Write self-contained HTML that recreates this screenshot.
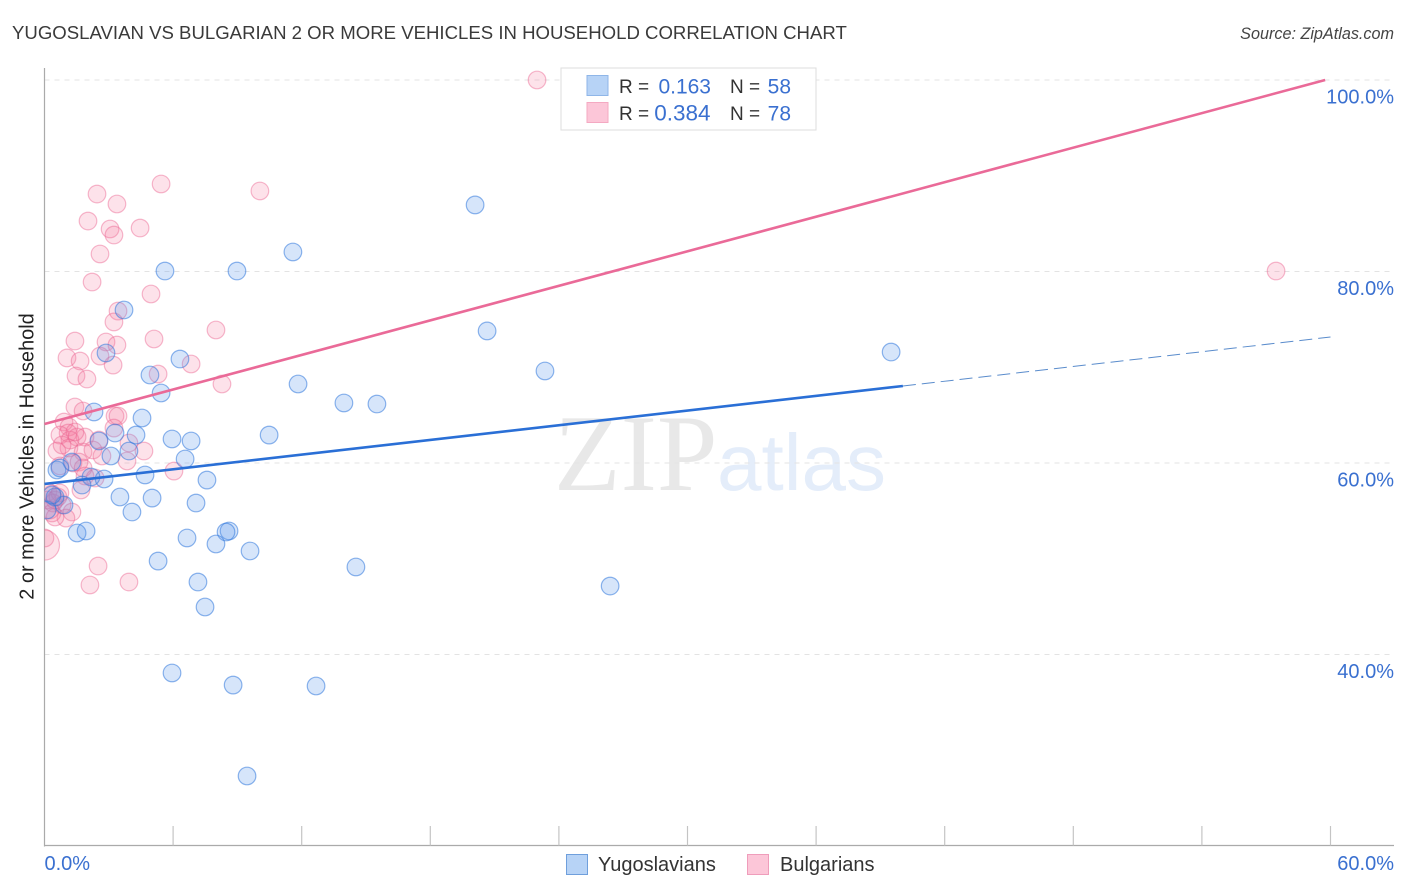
<!DOCTYPE html>
<html lang="en">
<head>
<meta charset="utf-8">
<title>Yugoslavian vs Bulgarian 2 or More Vehicles in Household Correlation Chart</title>
<style>
  html, body { margin: 0; padding: 0; background: #fff; }
  svg { display: block; font-family: "Liberation Sans", sans-serif; }
</style>
</head>
<body>
<svg id="chart" width="1406" height="892" viewBox="0 0 1406 892" xmlns="http://www.w3.org/2000/svg">
  <defs>
    <clipPath id="plot-clip"><rect x="44.5" y="60" width="1350" height="786"></rect></clipPath>
  </defs>
  <rect width="1406" height="892" fill="#fff"></rect>
  <text x="12" y="39" font-size="18.6" fill="#3a3a3a">YUGOSLAVIAN VS BULGARIAN 2 OR MORE VEHICLES IN HOUSEHOLD CORRELATION CHART</text>
  <text x="1394" y="39" font-size="16.2" font-style="italic" fill="#444" text-anchor="end">Source: ZipAtlas.com</text>
  <text transform="translate(33.5,456.5) rotate(-90)" font-size="19.9" fill="#222" text-anchor="middle">2 or more Vehicles in Household</text>
  <g>
    <text x="554" y="490" font-family="'Liberation Serif', serif" font-size="109" fill="#e8e8e8">ZIP</text>
    <text x="717" y="490" font-size="80" fill="#e4edfa">atlas</text>
  </g>
  <g id="grid"></g>
  <g id="axes"></g>
  <g id="points" clip-path="url(#plot-clip)"></g>
  <g id="trends"></g>
  <g id="labels"></g>

  <g>
    <rect x="561" y="68" width="255" height="62" fill="#fff" stroke="#ddd" stroke-width="1"></rect>
    <rect x="587" y="75.5" width="21" height="20" fill="#b7d3f6" stroke="#8fb6e8" stroke-width="1"></rect>
    <rect x="587" y="102.5" width="21" height="20" fill="#fcc6d8" stroke="#f4a9c2" stroke-width="1"></rect>
    <g font-size="19">
      <text x="619" y="93" fill="#333">R =</text>
      <text x="711" y="93.5" fill="#3a70d0" text-anchor="end" font-size="21">0.163</text>
      <text x="730" y="93" fill="#333">N =</text>
      <text x="791" y="93.5" fill="#3a70d0" text-anchor="end" font-size="21">58</text>
      <text x="619" y="120" fill="#333">R =</text>
      <text x="710.5" y="120.5" fill="#3a70d0" text-anchor="end" font-size="22.5">0.384</text>
      <text x="730" y="120" fill="#333">N =</text>
      <text x="791" y="120.5" fill="#3a70d0" text-anchor="end" font-size="21">78</text>
    </g>
  </g>

  <g>
    <g>
      <rect x="566.5" y="854.5" width="21" height="20" fill="#b7d3f6" stroke="#6f9fdc" stroke-width="1"></rect>
      <text x="598" y="871" font-size="20" fill="#333">Yugoslavians</text>
    </g>
    <g>
      <rect x="747.5" y="854.5" width="21" height="20" fill="#fcc6d8" stroke="#ef9dbb" stroke-width="1"></rect>
      <text x="780" y="871" font-size="20" fill="#333">Bulgarians</text>
    </g>
  </g>
</svg>

<script>
// ---- chart data ----
const yugoslavianX = [20.09,11.59,5.62,8.98,3.71,20.65,39.50,2.87,6.32,23.35,4.92,11.83,5.44,13.97,15.51,2.31,4.55,3.29,4.27,10.48,5.95,6.84,2.54,3.94,3.10,6.56,1.28,0.58,0.72,4.69,2.78,7.58,2.17,1.75,3.52,5.02,7.07,0.91,4.08,0.49,0.12,1.52,1.94,6.65,8.61,8.47,8.00,9.59,5.30,14.53,7.16,26.39,7.49,5.95,8.80,12.67,9.45,0.35];
const yugoslavianY = [86.95,82.04,80.05,80.05,75.98,73.79,71.59,71.49,70.86,69.61,69.19,68.25,67.31,66.27,66.16,65.33,64.70,63.13,62.92,62.92,62.51,62.30,62.30,61.25,60.73,60.42,60.10,59.27,59.48,58.75,58.33,58.22,58.54,57.70,56.45,56.34,55.82,55.61,54.88,56.45,55.09,52.69,52.90,52.17,52.90,52.79,51.54,50.81,49.76,49.14,47.57,47.15,44.96,38.07,36.81,36.71,27.31,56.66];

const bulgarianX = [22.98,5.44,2.45,10.05,3.38,2.03,3.06,4.46,3.24,2.59,2.22,4.97,3.43,3.24,8.00,5.11,1.42,2.87,3.38,1.05,2.59,1.66,3.20,6.84,5.30,1.47,1.98,8.28,1.42,1.80,3.29,3.43,0.91,1.14,1.10,0.72,3.24,1.89,1.52,2.54,3.94,1.14,4.64,0.58,1.80,2.26,3.85,2.68,0.72,1.33,1.61,1.80,6.04,1.89,2.36,1.70,0.16,0.35,0.40,0.82,1.28,1.00,0.35,0.49,0.12,0.02,2.50,2.12,3.94,57.46,0.72,0.49,0.26,0.63,1.19,0.82,1.42];
const bulgarianY = [100,89.14,88.09,88.41,87.05,85.27,84.44,84.54,83.81,81.83,78.90,77.65,75.87,74.73,73.89,72.95,72.74,72.64,72.32,70.97,71.17,70.65,70.23,70.34,69.29,69.09,68.77,68.25,65.85,65.43,64.91,64.91,64.28,63.76,63.13,62.92,63.65,62.71,62.71,62.40,62.09,61.57,61.25,61.25,61.15,61.36,60.21,60.73,59.69,60.00,60.10,59.48,59.16,58.64,58.43,57.18,56.97,56.76,55.82,55.61,54.88,54.25,54.78,54.36,56.13,52.17,49.24,47.26,47.57,80.05,56.87,56.13,55.09,56.45,62.40,61.88,63.24];

// one heavily weighted Bulgarian point drawn with a larger marker
const bulgarianLargeX = [0];
const bulgarianLargeY = [51.43];

const yugoslavianTrendX = [0, 40.05];
const yugoslavianTrendY = [57.81, 68.04];
const yugoslavianForecastX = [40.05, 60];
const yugoslavianForecastY = [68.04, 73.16];
const bulgarianTrendX = [0, 59.75];
const bulgarianTrendY = [64.07, 100];

const xTickValues = [0,6,12,18,24,30,36,42,48,54,60];
const yGridValues = [100,80,60,40];
const yTickLabels = ["100.0%","80.0%","60.0%","40.0%"];
const xEndValues = [0,60];
const xEndLabels = ["0.0%","60.0%"];

// ---- axis functions ----
const X0 = 44.5, X60 = 1330.5, Y100 = 80, Y40 = 654.5;
function sx(v) { return X0 + (v / 60) * (X60 - X0); }
function sy(v) { return Y100 + ((100 - v) / 60) * (Y40 - Y100); }

const NS = 'http://www.w3.org/2000/svg';
function make(tag, parent, attrs) {
  const el = document.createElementNS(NS, tag);
  for (const k in attrs) el.setAttribute(k, attrs[k]);
  parent.appendChild(el);
  return el;
}

const gridGroup = document.getElementById('grid');
const axesGroup = document.getElementById('axes');
const pointsGroup = document.getElementById('points');
const trendsGroup = document.getElementById('trends');
const labelsGroup = document.getElementById('labels');

// gridlines and y labels
yGridValues.forEach(function (v, i) {
  const line = make('line', gridGroup, { x1: 44.5, x2: 1394, y1: sy(v), y2: sy(v), stroke: '#e3e3e3', 'stroke-width': 1, 'stroke-dasharray': '5 5' });
  
  
  const label = make('text', labelsGroup, { x: 1394, y: sy(v) + 23.5, 'text-anchor': 'end', 'font-size': 20, fill: '#3a70d0' });
  label.textContent = yTickLabels[i];
  
  
});

// axes and ticks
const yAxisLine = make('line', axesGroup, { x1: 44.5, x2: 44.5, y1: 68, y2: 846.5, stroke: '#aaa', 'stroke-width': 1.2 });


const xAxisLine = make('line', axesGroup, { x1: 44, x2: 1394, y1: 845.5, y2: 845.5, stroke: '#aaa', 'stroke-width': 1.2 });


xTickValues.forEach(function (v) {
  if (v === 0) return;
  const tick = make('line', axesGroup, { x1: sx(v), x2: sx(v), y1: 826, y2: 845.5, stroke: '#c4c4c4', 'stroke-width': 1.2 });
  
  
});
xEndValues.forEach(function (v, i) {
  const label = make('text', labelsGroup, { x: i === 0 ? sx(v) : 1394, y: 870, 'text-anchor': i === 0 ? 'start' : 'end', 'font-size': 20, fill: '#3a70d0' });
  label.textContent = xEndLabels[i];
  
  
});

// points
const blueStyle = { fill: 'rgba(90,150,235,0.25)', stroke: 'rgba(50,120,220,0.55)', 'stroke-width': 1.2 };
const pinkStyle = { fill: 'rgba(245,125,160,0.22)', stroke: 'rgba(235,100,145,0.45)', 'stroke-width': 1.2 };

bulgarianLargeX.forEach(function (v, i) {
  const c = make('circle', pointsGroup, Object.assign({ cx: sx(v), cy: sy(bulgarianLargeY[i]), r: 15 }, pinkStyle));
  
  
});
bulgarianX.forEach(function (v, i) {
  const c = make('circle', pointsGroup, Object.assign({ cx: sx(v), cy: sy(bulgarianY[i]), r: 8.8 }, pinkStyle));
  
  
});
yugoslavianX.forEach(function (v, i) {
  const c = make('circle', pointsGroup, Object.assign({ cx: sx(v), cy: sy(yugoslavianY[i]), r: 8.8 }, blueStyle));
  
  
});

// trend lines
const blueTrend = make('line', trendsGroup, { x1: sx(yugoslavianTrendX[0]), y1: sy(yugoslavianTrendY[0]), x2: sx(yugoslavianTrendX[1]), y2: sy(yugoslavianTrendY[1]), stroke: '#2a6fd6', 'stroke-width': 2.6 });


const blueForecast = make('line', trendsGroup, { x1: sx(yugoslavianForecastX[0]), y1: sy(yugoslavianForecastY[0]), x2: sx(yugoslavianForecastX[1]), y2: sy(yugoslavianForecastY[1]), stroke: '#5a8ccc', 'stroke-width': 1, 'stroke-dasharray': '13 6' });


const pinkTrend = make('line', trendsGroup, { x1: sx(bulgarianTrendX[0]), y1: sy(bulgarianTrendY[0]), x2: sx(bulgarianTrendX[1]), y2: sy(bulgarianTrendY[1]), stroke: '#ea6a98', 'stroke-width': 2.6 });


</script>
</body>
</html>
